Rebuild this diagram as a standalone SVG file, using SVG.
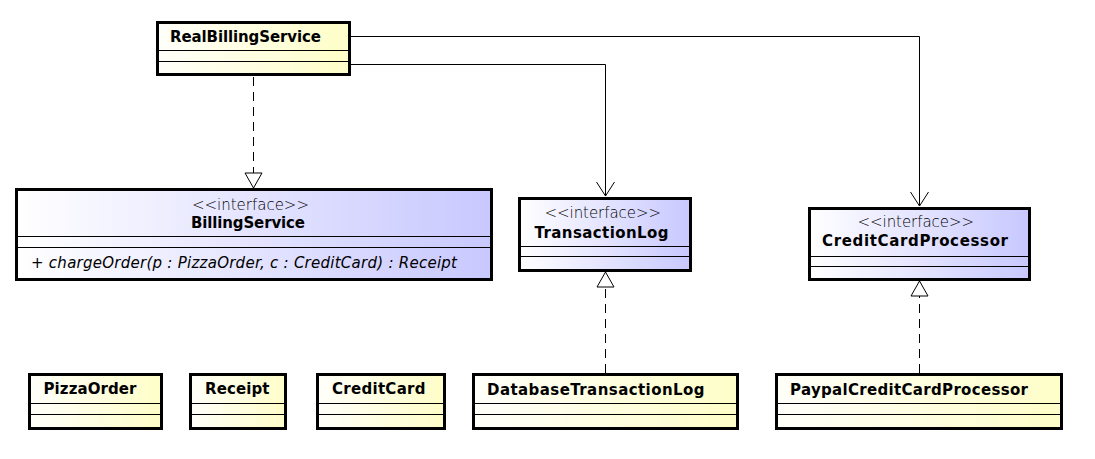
<svg xmlns="http://www.w3.org/2000/svg" width="1095" height="459" viewBox="0 0 1095 459">
<style>
  .box { stroke: #000; stroke-width: 3; }
  .cls { fill: url(#gy); }
  .ifc { fill: url(#gb); }
  .sep { stroke: #000; stroke-width: 1; }
  .name { font-family: "DejaVu Sans", "Liberation Sans", sans-serif; font-weight: bold; font-size: 15px; fill: #000; }
  .stereo { font-family: "DejaVu Sans", "Liberation Sans", sans-serif; font-weight: 200; font-size: 15px; fill: #000; }
  .op { font-family: "DejaVu Sans", "Liberation Sans", sans-serif; font-weight: 200; font-style: italic; font-size: 15px; fill: #000; }
  .assoc { fill: none; stroke: #000; stroke-width: 1; }
  .real { fill: none; stroke: #000; stroke-width: 1; stroke-dasharray: 9 6; }
</style>
<defs>
  <linearGradient id="gy" x1="0" y1="0" x2="1" y2="0">
    <stop offset="0" stop-color="#FFFFFA"/>
    <stop offset="1" stop-color="#FEFEC8"/>
  </linearGradient>
  <linearGradient id="gb" x1="0" y1="0" x2="1" y2="0">
    <stop offset="0" stop-color="#FFFFFF"/>
    <stop offset="1" stop-color="#C8C8FF"/>
  </linearGradient>
  <marker id="open" viewBox="-15 -10 16 20" refX="0" refY="0" markerWidth="16" markerHeight="20" markerUnits="userSpaceOnUse" orient="auto">
    <path d="M-14,-9 L0,0 L-14,9" fill="none" stroke="#000" stroke-width="1" stroke-dasharray="none"/>
  </marker>
  <marker id="tri" viewBox="-16 -10 17 20" refX="0" refY="0" markerWidth="17" markerHeight="20" markerUnits="userSpaceOnUse" orient="auto">
    <path d="M0,0 L-15,-8.5 L-15,8.5 Z" fill="#fff" stroke="#000" stroke-width="1" stroke-dasharray="none"/>
  </marker>
</defs>
<rect width="1095" height="459" fill="#fff"/>

<g id="connectors">
  <path class="assoc" d="M351,36.5 H919.5 V206" marker-end="url(#open)"/>
  <path class="assoc" d="M351,64.5 H605.5 V196" marker-end="url(#open)"/>
  <path class="real" d="M253.5,77 V188" marker-end="url(#tri)"/>
  <path class="real" d="M605.5,373 V272" marker-end="url(#tri)"/>
  <path class="real" d="M919.5,373 V281" marker-end="url(#tri)"/>
</g>

<g id="RealBillingService">
  <rect class="box cls" x="157.5" y="22.5" width="192" height="52"/>
  <line class="sep" x1="157.5" y1="50.5" x2="349.5" y2="50.5"/>
  <line class="sep" x1="157.5" y1="61.5" x2="349.5" y2="61.5"/>
  <text class="name" x="170" y="42" textLength="151" lengthAdjust="spacing">RealBillingService</text>
</g>

<g id="BillingService">
  <rect class="box ifc" x="16.5" y="189.5" width="475" height="90"/>
  <line class="sep" x1="16.5" y1="236.5" x2="491.5" y2="236.5"/>
  <line class="sep" x1="16.5" y1="247.5" x2="491.5" y2="247.5"/>
  <text class="stereo" x="192" y="210" textLength="117" lengthAdjust="spacing">&lt;&lt;interface&gt;&gt;</text>
  <text class="name" x="191" y="228" textLength="114" lengthAdjust="spacing">BillingService</text>
  <text class="op" x="31" y="268" textLength="426" lengthAdjust="spacing">+ chargeOrder(p : PizzaOrder, c : CreditCard) : Receipt</text>
</g>

<g id="TransactionLog">
  <rect class="box ifc" x="519.5" y="198.5" width="171" height="72"/>
  <line class="sep" x1="519.5" y1="246.5" x2="690.5" y2="246.5"/>
  <line class="sep" x1="519.5" y1="256.5" x2="690.5" y2="256.5"/>
  <text class="stereo" x="544.5" y="218" textLength="116.5" lengthAdjust="spacing">&lt;&lt;interface&gt;&gt;</text>
  <text class="name" x="534.5" y="238" textLength="134" lengthAdjust="spacing">TransactionLog</text>
</g>

<g id="CreditCardProcessor">
  <rect class="box ifc" x="809.5" y="208.5" width="220" height="71"/>
  <line class="sep" x1="809.5" y1="256.5" x2="1029.5" y2="256.5"/>
  <line class="sep" x1="809.5" y1="266.5" x2="1029.5" y2="266.5"/>
  <text class="stereo" x="857.5" y="227" textLength="116.5" lengthAdjust="spacing">&lt;&lt;interface&gt;&gt;</text>
  <text class="name" x="822" y="246" textLength="186" lengthAdjust="spacing">CreditCardProcessor</text>
</g>

<g id="PizzaOrder">
  <rect class="box cls" x="29.5" y="374.5" width="132" height="54"/>
  <line class="sep" x1="29.5" y1="403.5" x2="161.5" y2="403.5"/>
  <line class="sep" x1="29.5" y1="414.5" x2="161.5" y2="414.5"/>
  <text class="name" x="43.5" y="394" textLength="93" lengthAdjust="spacing">PizzaOrder</text>
</g>

<g id="Receipt">
  <rect class="box cls" x="190.5" y="374.5" width="95" height="54"/>
  <line class="sep" x1="190.5" y1="403.5" x2="285.5" y2="403.5"/>
  <line class="sep" x1="190.5" y1="414.5" x2="285.5" y2="414.5"/>
  <text class="name" x="205" y="394" textLength="64.5" lengthAdjust="spacing">Receipt</text>
</g>

<g id="CreditCard">
  <rect class="box cls" x="317.5" y="374.5" width="127" height="54"/>
  <line class="sep" x1="317.5" y1="403.5" x2="444.5" y2="403.5"/>
  <line class="sep" x1="317.5" y1="414.5" x2="444.5" y2="414.5"/>
  <text class="name" x="332" y="394" textLength="93.5" lengthAdjust="spacing">CreditCard</text>
</g>

<g id="DatabaseTransactionLog">
  <rect class="box cls" x="473.5" y="374.5" width="264" height="54"/>
  <line class="sep" x1="473.5" y1="403.5" x2="737.5" y2="403.5"/>
  <line class="sep" x1="473.5" y1="414.5" x2="737.5" y2="414.5"/>
  <text class="name" x="487" y="395" textLength="217.5" lengthAdjust="spacing">DatabaseTransactionLog</text>
</g>

<g id="PaypalCreditCardProcessor">
  <rect class="box cls" x="776.5" y="374.5" width="285" height="54"/>
  <line class="sep" x1="776.5" y1="403.5" x2="1061.5" y2="403.5"/>
  <line class="sep" x1="776.5" y1="414.5" x2="1061.5" y2="414.5"/>
  <text class="name" x="790" y="395" textLength="238" lengthAdjust="spacing">PaypalCreditCardProcessor</text>
</g>
</svg>
